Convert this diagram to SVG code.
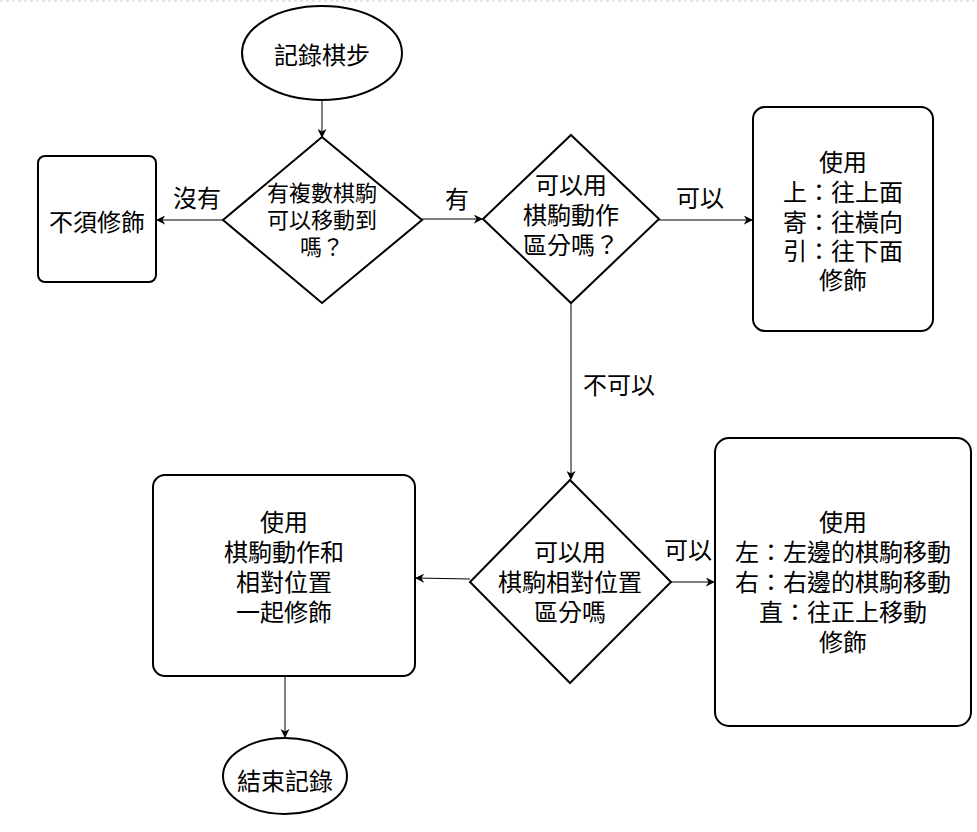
<svg xmlns="http://www.w3.org/2000/svg" width="977" height="832" viewBox="0 0 977 832">
<style>
.s{fill:#fff;stroke:#000;stroke-width:2}
.c{fill:none;stroke:#000;stroke-width:1}
text{font-family:"Noto Sans CJK TC","Noto Sans CJK SC",sans-serif;font-size:24px;text-anchor:middle;fill:#000}
.sm{font-size:22px}
</style>
<defs>
<marker id="a" viewBox="0 0 10 10" refX="9" refY="5" markerWidth="9" markerHeight="9" markerUnits="userSpaceOnUse" orient="auto">
<path d="M0,0 L10,5 L0,10 L3,5 Z" fill="#000"/>
</marker>
</defs>
<rect width="977" height="832" fill="#fff"/>
<line x1="0" y1="1" x2="977" y2="1" stroke="#ccc" stroke-width="1" stroke-dasharray="3 3"/>
<g id="connectors">
<line class="c" x1="322" y1="100" x2="322" y2="137" marker-end="url(#a)"/>
<line class="c" x1="223" y1="220" x2="157" y2="220" marker-end="url(#a)"/>
<line class="c" x1="422" y1="219" x2="482" y2="219" marker-end="url(#a)"/>
<line class="c" x1="659" y1="220" x2="752" y2="220" marker-end="url(#a)"/>
<line class="c" x1="571" y1="303" x2="571" y2="479" marker-end="url(#a)"/>
<line class="c" x1="671" y1="582" x2="714" y2="582" marker-end="url(#a)"/>
<line class="c" x1="470" y1="579" x2="416" y2="578" marker-end="url(#a)"/>
<line class="c" x1="285" y1="676" x2="285" y2="737" marker-end="url(#a)"/>
<text x="197" y="207">沒有</text>
<text x="457" y="208">有</text>
<text x="700" y="207">可以</text>
<text x="619" y="394">不可以</text>
<text x="688" y="559">可以</text>
</g>
<g id="start">
<ellipse class="s" cx="322" cy="53" rx="80" ry="47"/>
<text x="322" y="64">記錄棋步</text>
</g>
<g id="d1">
<path class="s" d="M322,137 L422,220 L322,303 L223,220 Z"/>
<text class="sm" x="322" y="201">有複數棋駒</text>
<text class="sm" x="322" y="228">可以移動到</text>
<text class="sm" x="322" y="255">嗎？</text>
</g>
<g id="noneed">
<rect class="s" x="38" y="156" width="118" height="126" rx="7"/>
<text x="97" y="231">不須修飾</text>
</g>
<g id="d2">
<path class="s" d="M571,135 L659,219 L571,303 L483,219 Z"/>
<text x="571" y="194">可以用</text>
<text x="571" y="224">棋駒動作</text>
<text x="571" y="254">區分嗎？</text>
</g>
<g id="box1">
<rect class="s" x="753" y="107" width="180" height="224" rx="12"/>
<text x="843" y="171">使用</text>
<text x="843" y="201">上：往上面</text>
<text x="843" y="231">寄：往橫向</text>
<text x="843" y="260">引：往下面</text>
<text x="843" y="289">修飾</text>
</g>
<g id="d3">
<path class="s" d="M570,480 L671,582 L570,683 L470,582 Z"/>
<text x="570" y="561">可以用</text>
<text x="570" y="591">棋駒相對位置</text>
<text x="570" y="621">區分嗎</text>
</g>
<g id="box2">
<rect class="s" x="715" y="438" width="256" height="288" rx="14"/>
<text x="843" y="531">使用</text>
<text x="843" y="561">左：左邊的棋駒移動</text>
<text x="843" y="591">右：右邊的棋駒移動</text>
<text x="843" y="621">直：往正上移動</text>
<text x="843" y="651">修飾</text>
</g>
<g id="box3">
<rect class="s" x="153" y="475" width="262" height="201" rx="12"/>
<text x="284" y="531">使用</text>
<text x="284" y="561">棋駒動作和</text>
<text x="284" y="591">相對位置</text>
<text x="284" y="621">一起修飾</text>
</g>
<g id="end">
<ellipse class="s" cx="285" cy="776" rx="62" ry="38"/>
<text x="285" y="790">結束記錄</text>
</g>
</svg>
